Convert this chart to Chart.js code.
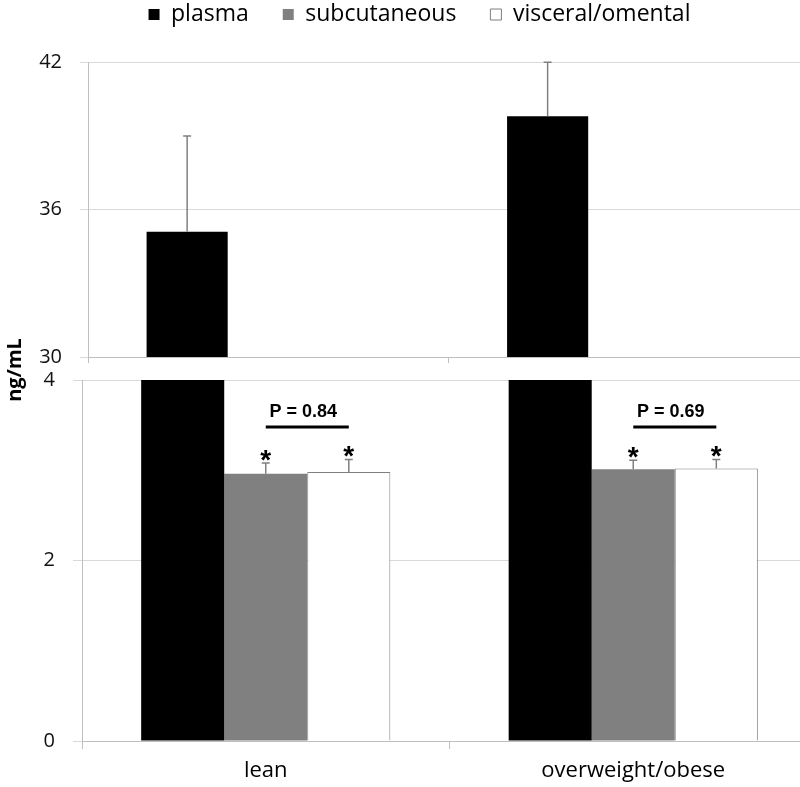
<!DOCTYPE html>
<html lang="en">
<head>
<meta charset="UTF-8">
<title>ng/mL - plasma, subcutaneous and visceral/omental</title>
<script src="https://cdn.jsdelivr.net/npm/chart.js@4.4.1/dist/chart.umd.min.js"></script>
<style>
  html, body { margin: 0; padding: 0; background: #fff; overflow: hidden; }
  body { width: 800px; height: 787px; position: relative; }
  canvas { position: absolute; left: 0; }
  #topChart { top: -31px; }
  #bottomChart { top: 300px; }
</style>
</head>
<body>

<canvas id="topChart" width="839" height="420"></canvas>
<canvas id="bottomChart" width="820" height="487"></canvas>

<script>
const categories = ['lean', 'overweight/obese'];
const seriesNames = ['plasma', 'subcutaneous', 'visceral/omental'];
const plasma = [35.1, 39.8];
const subcutaneous = [2.96, 3.01];
const visceral = [2.98, 3.02];
const plasmaErr = [3.9, 2.2];
const subcutaneousErr = [0.12, 0.10];
const visceralErr = [0.14, 0.10];
const pLabels = ['P = 0.84', 'P = 0.69'];
const pLineLevel = [3.48, 3.48];
const topTicks = [30, 36, 42];
const bottomTicks = [0, 2, 4];

const FONT = "'Open Sans', sans-serif";
const gridGray = '#d9d9d9';
const axisGray = '#bfbfbf';

function makeDatasets() {
    return [
        { label: seriesNames[0], data: plasma, err: plasmaErr,
          backgroundColor: '#000000', borderColor: '#000000', borderWidth: 0 },
        { label: seriesNames[1], data: subcutaneous, err: subcutaneousErr,
          backgroundColor: '#808080', borderColor: '#808080', borderWidth: 0 },
        { label: seriesNames[2], data: visceral, err: visceralErr,
          backgroundColor: '#ffffff', borderColor: '#7f7f7f', borderWidth: 1 }
    ];
}

// one-sided (upper) error bars, clipped to the panel
const errorBars = {
    id: 'errorBars',
    afterDatasetsDraw(chart) {
        const { ctx, chartArea: a, scales: { y } } = chart;
        ctx.save();
        ctx.beginPath();
        ctx.rect(a.left, a.top - 2, a.right - a.left, a.bottom - a.top + 2);
        ctx.clip();
        ctx.strokeStyle = '#808080';
        ctx.lineWidth = 1.5;
        chart.data.datasets.forEach((ds, i) => {
            chart.getDatasetMeta(i).data.forEach((bar, j) => {
                const y0 = y.getPixelForValue(ds.data[j]);
                const y1 = y.getPixelForValue(ds.data[j] + ds.err[j]);
                ctx.beginPath();
                ctx.moveTo(bar.x, y0);
                ctx.lineTo(bar.x, y1);
                ctx.moveTo(bar.x - 4, y1);
                ctx.lineTo(bar.x + 4, y1);
                ctx.stroke();
            });
        });
        ctx.restore();
    }
};

// asterisks, P value brackets and the shared y title
const annotations = {
    id: 'annotations',
    afterDatasetsDraw(chart) {
        const { ctx, scales: { y } } = chart;
        const sub = chart.getDatasetMeta(1).data;
        const vis = chart.getDatasetMeta(2).data;
        ctx.save();
        ctx.fillStyle = '#000';
        ctx.strokeStyle = '#000';
        ctx.textAlign = 'center';

        ctx.font = "bold 28px 'Liberation Sans'";
        ctx.textBaseline = 'alphabetic';
        [1, 2].forEach(i => {
            const ds = chart.data.datasets[i];
            chart.getDatasetMeta(i).data.forEach((bar, j) => {
                const top = y.getPixelForValue(ds.data[j] + ds.err[j]);
                ctx.fillText('*', bar.x, top + 6);
            });
        });

        categories.forEach((c, j) => {
            const x0 = sub[j].x, x1 = vis[j].x;
            const ly = y.getPixelForValue(pLineLevel[j]);
            ctx.lineWidth = 3;
            ctx.beginPath();
            ctx.moveTo(x0, ly);
            ctx.lineTo(x1, ly);
            ctx.stroke();
            ctx.font = "bold 18px 'Liberation Sans'";
            ctx.fillText(pLabels[j], (x0 + x1) / 2 - 4, ly - 10);
        });

        ctx.translate(15, 70);
        ctx.rotate(-Math.PI / 2);
        ctx.textBaseline = 'middle';
        ctx.font = 'bold 20px ' + FONT;
        ctx.fillText('ng/mL', 0, 0);
        ctx.restore();
    }
};

Chart.defaults.font.family = FONT;
Chart.defaults.color = '#111';

new Chart(document.getElementById('topChart'), {
    type: 'bar',
    data: { labels: categories, datasets: makeDatasets() },
    options: {
        responsive: false,
        animation: false,
        categoryPercentage: 0.675,
        barPercentage: 1.0,
        layout: { padding: { left: 30, right: 30, top: 0, bottom: 0 } },
        plugins: {
            legend: {
                position: 'top',
                weight: 3000,
                labels: { boxWidth: 11, boxHeight: 11, padding: 34, color: '#000', font: { size: 23 } }
            },
            title: { display: true, text: ' ', font: { size: 1 }, padding: { top: 12, bottom: 13 } },
            tooltip: { enabled: false }
        },
        scales: {
            x: {
                offset: true,
                grid: { offset: true, drawOnChartArea: false, color: axisGray, tickLength: 6 },
                border: { color: axisGray },
                ticks: { display: false },
                afterFit(s) { s.height = 32; }
            },
            y: {
                min: topTicks[0],
                max: topTicks[topTicks.length - 1],
                ticks: { stepSize: topTicks[1] - topTicks[0], padding: 18, font: { size: 20 } },
                grid: { color: gridGray, tickLength: 8 },
                border: { color: axisGray },
                afterFit(s) { s.width = 58; }
            }
        }
    },
    plugins: [errorBars]
});

new Chart(document.getElementById('bottomChart'), {
    type: 'bar',
    data: { labels: categories, datasets: makeDatasets() },
    options: {
        responsive: false,
        animation: false,
        categoryPercentage: 0.678,
        barPercentage: 1.0,
        layout: { padding: { left: 0, right: 3, top: 80, bottom: 0 } },
        plugins: {
            legend: { display: false },
            tooltip: { enabled: false }
        },
        scales: {
            x: {
                offset: true,
                grid: { offset: true, drawOnChartArea: false, color: axisGray, tickLength: 8 },
                border: { color: axisGray },
                ticks: { padding: 9, color: '#000', font: { size: 22 } },
                afterFit(s) { s.height = 46; }
            },
            y: {
                min: bottomTicks[0],
                max: bottomTicks[bottomTicks.length - 1],
                ticks: { stepSize: bottomTicks[1] - bottomTicks[0], padding: 18, font: { size: 20 } },
                grid: { color: gridGray, tickLength: 9 },
                border: { color: axisGray },
                afterFit(s) { s.width = 82; }
            }
        }
    },
    plugins: [errorBars, annotations]
});
</script>

</body>
</html>
